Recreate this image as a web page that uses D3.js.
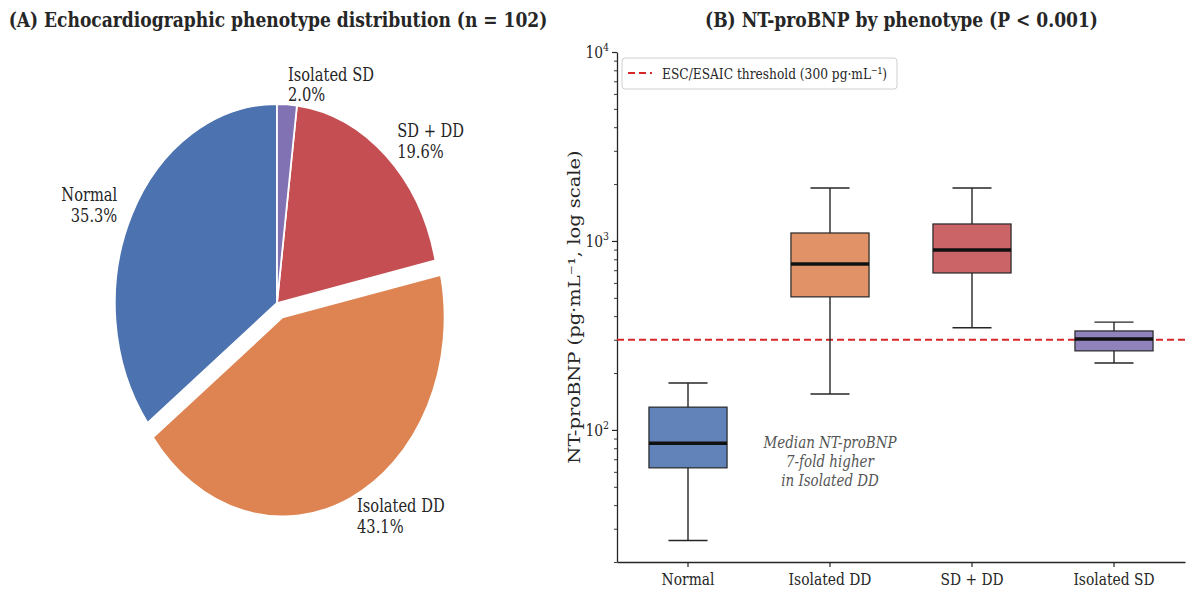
<!DOCTYPE html>
<html><head><meta charset="utf-8">
<script src="https://cdn.jsdelivr.net/npm/d3@7"></script>
<style>
body{margin:0;background:#fff}
svg{display:block}
text{font-family:"DejaVu Serif",serif}
</style>
</head><body>
<svg id="chart" width="1186" height="591"></svg>
<script>
// Phenotype groups and patient counts (n = 102)
const phenotypes = ["Normal", "Isolated DD", "SD + DD", "Isolated SD"];
const patientCounts = [36, 44, 20, 2];
const phenotypeColors = ["#4c72b0", "#dd8452", "#c44e52", "#8172b3"];
const explodeFrac = [0, 0.08, 0, 0];

// NT-proBNP box summaries per phenotype (pg/mL)
const bnpLowWhisker = [26, 155, 347, 226];
const bnpQ1 = [63, 506, 677, 262];
const bnpMedian = [85, 755, 896, 303];
const bnpQ3 = [132, 1102, 1230, 334];
const bnpHighWhisker = [177, 1905, 1905, 372];

const majorTicks = [100, 1000, 10000];
const majorTickExp = ["2", "3", "4"];
const thresholdValue = 300;
const thresholdLabel = "ESC/ESAIC threshold (300 pg\u00b7mL\u207b\u00b9)";
const noteLines = ["Median NT-proBNP", "7-fold higher", "in Isolated DD"];

const sx = 0.815;           // horizontal condensing of the whole figure
const svg = d3.select("#chart");
const ink = "#262626";

function squeeze(sel, px, py, extra) {
  return sel.attr("x", 0).attr("y", 0)
    .attr("transform", `translate(${px},${py}) scale(${sx},1)` + (extra || ""));
}

// ---------- Panel A: pie ----------
const R = 199, pcx = 277, pcy = 303;
const pieG = svg.append("g").attr("transform", `translate(${pcx},${pcy}) scale(${sx},1)`);
const arcs = d3.pie().sort(null).startAngle(0).endAngle(-2 * Math.PI)(patientCounts);
const arcGen = d3.arc().innerRadius(0).outerRadius(R);
const total = d3.sum(patientCounts);

arcs.forEach((a, i) => {
  const mid = (a.startAngle + a.endAngle) / 2;
  const ux = Math.sin(mid), uy = -Math.cos(mid);
  const off = explodeFrac[i] * R;
  pieG.append("path")
    .attr("d", arcGen(a))
    .attr("transform", `translate(${ux * off},${uy * off})`)
    .attr("fill", phenotypeColors[i])
    .attr("stroke", "#fff")
    .attr("stroke-width", 1.8)
    .attr("vector-effect", "non-scaling-stroke")
    .attr("stroke-linejoin", "round");

  const d = (1.1 + explodeFrac[i]) * R;
  const lx = pcx + sx * ux * d, ly = pcy + uy * d;
  const t = squeeze(svg.append("text"), lx, ly)
    .attr("text-anchor", ux >= 0 ? "start" : "end")
    .attr("font-size", 18).attr("fill", ink);
  t.append("tspan").attr("x", 0).attr("y", -4).text(phenotypes[i]);
  t.append("tspan").attr("x", 0).attr("y", 16.5)
    .text(d3.format(".1f")(100 * patientCounts[i] / total) + "%");
});

squeeze(svg.append("text"), 278, 27)
  .attr("text-anchor", "middle").attr("font-size", 21).attr("font-weight", "bold")
  .attr("fill", ink)
  .text("(A) Echocardiographic phenotype distribution (n = 102)");

// ---------- Panel B: box plot ----------
const plotLeft = 617, plotRight = 1185, plotTop = 52, plotBottom = 562;
const x = d3.scaleBand().domain(phenotypes).range([plotLeft, plotRight]).padding(0);
const y = d3.scaleLog().domain([20, 10000]).range([plotBottom, plotTop]);
const bw = x.bandwidth();
const boxW = bw * 0.55, capW = bw * 0.275;

// minor log ticks
const minorTicks = [];
[10, 100, 1000].forEach(b => { for (let k = 2; k <= 9; k++) if (b * k >= 20) minorTicks.push(b * k); });

const yAxisMinor = svg.append("g").attr("transform", `translate(${plotLeft},0)`)
  .call(d3.axisLeft(y).tickValues(minorTicks).tickSize(3).tickSizeOuter(0).tickFormat(""));
yAxisMinor.select(".domain").remove();
yAxisMinor.selectAll("line").attr("stroke", ink).attr("stroke-width", 0.9);

const yAxis = svg.append("g").attr("transform", `translate(${plotLeft},0)`)
  .call(d3.axisLeft(y).tickValues(majorTicks).tickSize(5).tickSizeOuter(0).tickFormat(""));
yAxis.select(".domain").attr("stroke", ink).attr("stroke-width", 1.3);
yAxis.selectAll("line").attr("stroke", ink).attr("stroke-width", 1.2);
majorTicks.forEach((v, i) => {
  const t = squeeze(svg.append("text"), plotLeft - 8, y(v) + 6)
    .attr("text-anchor", "end").attr("font-size", 17).attr("fill", ink);
  t.append("tspan").text("10");
  t.append("tspan").attr("dy", -7).attr("font-size", 11.5).text(majorTickExp[i]);
});

const xAxis = svg.append("g").attr("transform", `translate(0,${plotBottom})`)
  .call(d3.axisBottom(x).tickSize(5).tickSizeOuter(0).tickFormat(""));
xAxis.select(".domain").attr("stroke", ink).attr("stroke-width", 1.3);
xAxis.selectAll("line").attr("stroke", ink).attr("stroke-width", 1.2);
phenotypes.forEach(c => {
  squeeze(svg.append("text"), x(c) + bw / 2, 585)
    .attr("text-anchor", "middle").attr("font-size", 17).attr("fill", ink).text(c);
});

squeeze(svg.append("text"), 580, (plotTop + plotBottom) / 2, " rotate(-90)")
  .attr("text-anchor", "middle").attr("font-size", 19.5).attr("fill", ink)
  .text("NT-proBNP (pg\u00b7mL\u207b\u00b9, log scale)");

// threshold (drawn beneath the boxes)
const red = "#d62728";
svg.append("line").attr("x1", plotLeft).attr("x2", 1186)
  .attr("y1", y(thresholdValue)).attr("y2", y(thresholdValue))
  .attr("stroke", red).attr("stroke-width", 2.2).attr("stroke-dasharray", "7,4");

// boxes
phenotypes.forEach((c, i) => {
  const cx = x(c) + bw / 2;
  const g = svg.append("g");
  g.append("line").attr("x1", cx).attr("x2", cx)
    .attr("y1", y(bnpLowWhisker[i])).attr("y2", y(bnpQ1[i]))
    .attr("stroke", ink).attr("stroke-width", 1.4);
  g.append("line").attr("x1", cx).attr("x2", cx)
    .attr("y1", y(bnpQ3[i])).attr("y2", y(bnpHighWhisker[i]))
    .attr("stroke", ink).attr("stroke-width", 1.4);
  [bnpLowWhisker[i], bnpHighWhisker[i]].forEach(v => {
    g.append("line").attr("x1", cx - capW / 2).attr("x2", cx + capW / 2)
      .attr("y1", y(v)).attr("y2", y(v))
      .attr("stroke", ink).attr("stroke-width", 1.4);
  });
  g.append("rect")
    .attr("x", cx - boxW / 2).attr("width", boxW)
    .attr("y", y(bnpQ3[i])).attr("height", y(bnpQ1[i]) - y(bnpQ3[i]))
    .attr("fill", phenotypeColors[i]).attr("fill-opacity", 0.88)
    .attr("stroke", ink).attr("stroke-width", 1.2);
  g.append("line").attr("x1", cx - boxW / 2).attr("x2", cx + boxW / 2)
    .attr("y1", y(bnpMedian[i])).attr("y2", y(bnpMedian[i]))
    .attr("stroke", "#111").attr("stroke-width", 3.5);
});

// legend
svg.append("rect").attr("x", 622).attr("y", 58).attr("width", 275).attr("height", 31)
  .attr("rx", 3).attr("fill", "#fff").attr("fill-opacity", 0.85)
  .attr("stroke", "#d0d0d0").attr("stroke-width", 1);
svg.append("line").attr("x1", 628).attr("x2", 652).attr("y1", 73).attr("y2", 73)
  .attr("stroke", red).attr("stroke-width", 2.2).attr("stroke-dasharray", "7,4");
squeeze(svg.append("text"), 662, 78.5)
  .attr("font-size", 15).attr("fill", ink).text(thresholdLabel);

// annotation
noteLines.forEach((s, i) => {
  squeeze(svg.append("text"), x("Isolated DD") + bw / 2, 448 + i * 19)
    .attr("text-anchor", "middle").attr("font-size", 16.5)
    .attr("font-style", "italic").attr("fill", "#555").text(s);
});

squeeze(svg.append("text"), (plotLeft + 1186) / 2, 27)
  .attr("text-anchor", "middle").attr("font-size", 21).attr("font-weight", "bold")
  .attr("fill", ink)
  .text("(B) NT-proBNP by phenotype (P < 0.001)");
</script>
</body></html>
